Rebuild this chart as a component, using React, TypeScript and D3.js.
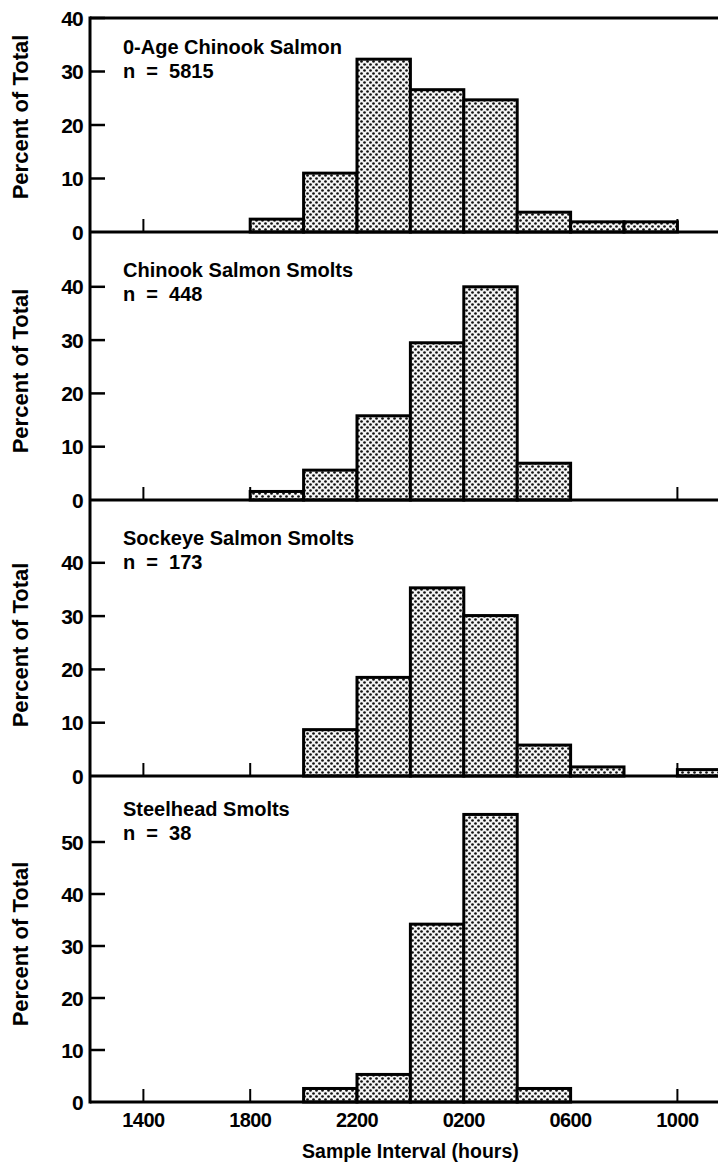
import React from "react";
import * as d3 from "d3";

// 2-hour sample bins, start time in hours counted from noon of day 1 (24 = midnight)
const binStarts = [18, 20, 22, 24, 26, 28, 30, 32, 34];
const hourTicks = [14, 18, 22, 26, 30, 34];

const speciesNames = [
  "0-Age Chinook Salmon",
  "Chinook Salmon Smolts",
  "Sockeye Salmon Smolts",
  "Steelhead Smolts",
];
const sampleSizes = [5815, 448, 173, 38];

// percent of total per bin (same order as binStarts)
const age0Chinook = [2.4, 11.0, 32.3, 26.6, 24.7, 3.7, 1.9, 1.9, 0];
const chinookSmolts = [1.6, 5.6, 15.8, 29.5, 40.0, 6.9, 0, 0, 0];
const sockeyeSmolts = [0, 8.7, 18.5, 35.3, 30.1, 5.8, 1.7, 0, 1.2];
const steelheadSmolts = [0, 2.6, 5.3, 34.2, 55.3, 2.6, 0, 0, 0];

const percentTicks = [
  [0, 10, 20, 30, 40],
  [0, 10, 20, 30, 40],
  [0, 10, 20, 30, 40],
  [0, 10, 20, 30, 40, 50],
];

const FONT = "'Liberation Sans', Arial, Helvetica, sans-serif";

class App extends React.Component {
  chartRef;

  componentDidMount() {
    this.renderChart([age0Chinook, chinookSmolts, sockeyeSmolts, steelheadSmolts]);
  }

  render() {
    return (
      <div
        ref={(el) => (this.chartRef = el)}
        style={{ position: "absolute", left: 0, top: 0 }}
      ></div>
    );
  }

  renderChart = (panels) => {
    const width = 718;
    const height = 1168;
    const axisX = 90;
    const baselines = [232, 500, 776, 1102]; // zero line of each panel
    const pxPerPct = [5.35, 5.33, 5.33, 5.2];
    const titleOffset = [36, 45, 45, 40];
    const labelShift = [-8, 5, 7, 5]; // "Percent of Total" centre vs panel centre

    d3.select(this.chartRef).selectAll("*").remove();

    const svg = d3
      .select(this.chartRef)
      .append("svg")
      .attr("width", width)
      .attr("height", height)
      .style("display", "block")
      .style("font-family", FONT)
      .style("font-weight", "bold");

    svg.append("rect").attr("width", width).attr("height", height).attr("fill", "#fff");

    // dotted screen used for the bars
    const pat = svg
      .append("defs")
      .append("pattern")
      .attr("id", "dots")
      .attr("patternUnits", "userSpaceOnUse")
      .attr("width", 6)
      .attr("height", 6);
    pat.append("rect").attr("width", 6).attr("height", 6).attr("fill", "#f4f4f4");
    pat.append("circle").attr("cx", 1.5).attr("cy", 1.5).attr("r", 1.35).attr("fill", "#111");
    pat.append("circle").attr("cx", 4.5).attr("cy", 4.5).attr("r", 1.35).attr("fill", "#111");

    // 12:00 to 12:00 next day
    const x = d3.scaleLinear().domain([12, 36]).range([axisX, axisX + 24 * 26.7]);

    const topOfFirst = baselines[0] - 40 * pxPerPct[0];

    panels.forEach((values, p) => {
      const base = baselines[p];
      const prevBase = p === 0 ? topOfFirst : baselines[p - 1];
      const y = d3
        .scaleLinear()
        .domain([0, (base - prevBase) / pxPerPct[p]])
        .range([base, prevBase]);

      const g = svg.append("g");

      // small upward hour ticks on the zero line
      g.selectAll("line.xtick")
        .data(hourTicks)
        .enter()
        .append("line")
        .attr("x1", (d) => x(d))
        .attr("x2", (d) => x(d))
        .attr("y1", base)
        .attr("y2", base - 13)
        .attr("stroke", "#000")
        .attr("stroke-width", 2);

      const bins = binStarts
        .map((s, i) => ({ start: s, value: values[i] }))
        .filter((d) => d.value > 0);

      g.selectAll("rect.bar")
        .data(bins)
        .enter()
        .append("rect")
        .attr("x", (d) => x(d.start))
        .attr("width", (d) => x(d.start + 2) - x(d.start))
        .attr("y", (d) => y(d.value))
        .attr("height", (d) => base - y(d.value))
        .attr("fill", "url(#dots)")
        .attr("stroke", "#000")
        .attr("stroke-width", 3);

      // zero line
      g.append("line")
        .attr("x1", axisX)
        .attr("x2", width)
        .attr("y1", base)
        .attr("y2", base)
        .attr("stroke", "#000")
        .attr("stroke-width", 3);

      // y ticks and labels
      const ticks = percentTicks[p];
      g.selectAll("line.ytick")
        .data(ticks.filter((t) => t > 0))
        .enter()
        .append("line")
        .attr("x1", axisX)
        .attr("x2", axisX + 15)
        .attr("y1", (d) => y(d))
        .attr("y2", (d) => y(d))
        .attr("stroke", "#000")
        .attr("stroke-width", 2.5);

      g.selectAll("text.ylab")
        .data(ticks)
        .enter()
        .append("text")
        .attr("x", axisX - 7)
        .attr("y", (d) => y(d))
        .attr("dy", "0.36em")
        .attr("text-anchor", "end")
        .attr("font-size", 21)
        .attr("letter-spacing", -0.8)
        .text((d) => d);

      g.append("text")
        .attr(
          "transform",
          `translate(28,${(base + prevBase) / 2 + labelShift[p]}) rotate(-90)`
        )
        .attr("text-anchor", "middle")
        .attr("font-size", 22)
        .text("Percent of Total");

      const ty = prevBase + titleOffset[p];
      g.append("text")
        .attr("x", 123)
        .attr("y", ty)
        .attr("font-size", 20)
        .text(speciesNames[p]);
      g.append("text")
        .attr("x", 123)
        .attr("y", ty + 24)
        .attr("font-size", 20)
        .style("white-space", "pre")
        .text("n  =  " + sampleSizes[p]);
    });

    // frame top of the first panel
    svg
      .append("line")
      .attr("x1", axisX)
      .attr("x2", width)
      .attr("y1", topOfFirst)
      .attr("y2", topOfFirst)
      .attr("stroke", "#000")
      .attr("stroke-width", 3);

    // left axis runs through all four panels
    svg
      .append("line")
      .attr("x1", axisX)
      .attr("x2", axisX)
      .attr("y1", topOfFirst - 1.5)
      .attr("y2", baselines[3] + 1.5)
      .attr("stroke", "#000")
      .attr("stroke-width", 3);

    const bottom = baselines[3];
    svg
      .selectAll("text.xlab")
      .data(hourTicks)
      .enter()
      .append("text")
      .attr("x", (d) => x(d))
      .attr("y", bottom + 25)
      .attr("text-anchor", "middle")
      .attr("font-size", 20)
      .attr("letter-spacing", -0.6)
      .text((d) => d3.format("02")(d % 24) + "00");

    svg
      .append("text")
      .attr("x", (x(12) + x(36)) / 2)
      .attr("y", bottom + 56)
      .attr("text-anchor", "middle")
      .attr("font-size", 19.5)
      .text("Sample Interval (hours)");
  };
}

export default App;
